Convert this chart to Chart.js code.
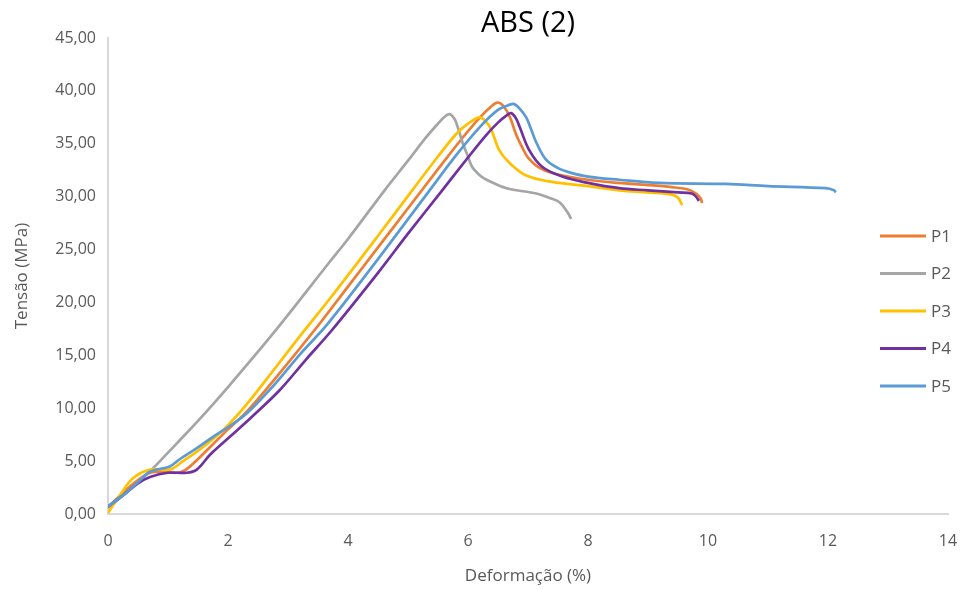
<!DOCTYPE html>
<html>
<head>
<meta charset="utf-8">
<script src="https://cdn.jsdelivr.net/npm/chart.js@4.4.0/dist/chart.umd.min.js"></script>
<style>
  html, body { margin: 0; padding: 0; background: #fff; }
  #wrap { width: 966px; height: 590px; }
</style>
</head>
<body>
<div id="wrap"><canvas id="myChart"></canvas></div>
<script>
// Deformação (%) x Tensão (MPa), five specimens
const p1 = [[0,0.6],[0.25,2.0],[0.5,3.2],[0.7,3.9],[0.9,4.0],[1.15,3.9],[1.3,4.2],[1.5,5.2],[1.75,6.6],[2.0,8.0],[2.3,9.6],[2.8,12.9],[3.5,17.8],[4.0,21.5],[4.5,25.2],[5.0,28.9],[5.5,32.6],[5.9,35.5],[6.2,37.5],[6.4,38.6],[6.5,38.9],[6.6,38.5],[6.7,37.5],[6.8,35.9],[6.9,34.7],[7.0,33.7],[7.2,32.7],[7.5,32.1],[8.0,31.6],[8.5,31.3],[9.0,31.1],[9.4,30.9],[9.65,30.7],[9.8,30.3],[9.88,29.8],[9.9,29.4]];
const p2 = [[0,0.6],[0.3,2.0],[0.5,3.0],[0.73,4.2],[1.0,5.8],[1.2,7.0],[1.5,8.8],[2.0,12.0],[2.8,17.4],[3.69,23.8],[4.0,26.0],[4.61,30.6],[5.0,33.4],[5.3,35.6],[5.5,36.9],[5.62,37.6],[5.7,37.8],[5.78,37.3],[5.85,36.2],[5.91,35.1],[6.0,33.8],[6.07,32.8],[6.2,32.0],[6.31,31.6],[6.64,30.8],[7.14,30.3],[7.35,29.9],[7.52,29.5],[7.65,28.6],[7.72,27.9]];
const p3 = [[0,0.1],[0.2,1.8],[0.42,3.4],[0.7,4.2],[1.03,4.2],[1.25,5.0],[1.53,6.1],[1.91,7.9],[2.3,10.3],[2.8,13.9],[3.28,17.4],[3.69,20.3],[4.5,26.3],[5.07,30.6],[5.5,33.8],[5.8,35.9],[6.0,36.9],[6.19,37.5],[6.3,37.1],[6.39,36.3],[6.52,34.4],[6.69,33.2],[6.97,32.0],[7.4,31.4],[8.0,31.0],[8.52,30.6],[9.0,30.4],[9.4,30.2],[9.5,29.9],[9.57,29.2]];
const p4 = [[0,0.7],[0.3,2.0],[0.5,2.9],[0.7,3.5],[1.0,3.9],[1.31,3.9],[1.48,4.2],[1.7,5.6],[2.03,7.3],[2.4,9.2],[2.86,11.7],[3.3,14.6],[3.72,17.3],[4.5,22.8],[5.0,26.5],[5.57,30.6],[6.0,33.7],[6.3,35.8],[6.5,37.0],[6.65,37.7],[6.72,37.9],[6.8,37.4],[6.86,36.6],[7.02,34.4],[7.24,32.8],[7.57,31.9],[8.0,31.3],[8.52,30.8],[9.0,30.6],[9.5,30.4],[9.73,30.3],[9.8,30.0],[9.85,29.6]];
const p5 = [[0,0.7],[0.3,2.0],[0.5,3.0],[0.7,4.0],[1.03,4.5],[1.2,5.2],[1.5,6.3],[1.75,7.3],[2.0,8.2],[2.31,9.5],[2.8,12.4],[3.2,15.1],[3.65,17.9],[4.5,24.1],[5.36,30.6],[5.8,33.9],[6.2,36.6],[6.5,38.2],[6.7,38.7],[6.77,38.75],[6.85,38.4],[6.97,37.5],[7.05,36.4],[7.14,35.1],[7.3,33.5],[7.5,32.7],[7.69,32.3],[8.0,31.9],[8.52,31.6],[9.18,31.3],[10.3,31.2],[11.0,31.0],[11.96,30.8],[12.1,30.6],[12.13,30.4]];

const names = ['P1', 'P2', 'P3', 'P4', 'P5'];
const series = [p1, p2, p3, p4, p5];
const colors = ['#ED7D31', '#A5A5A5', '#FFC000', '#7030A0', '#5B9BD5'];

const FONT = '"Open Sans", "Liberation Sans", sans-serif';
const TEXT = '#595959';

// legend drawn inside the plot, right side, like the spreadsheet one
const sideLegend = {
    id: 'sideLegend',
    afterDraw(chart) {
        const c = chart.ctx;
        const x0 = chart.chartArea.right - 68;
        c.save();
        c.font = '17px ' + FONT;
        c.textBaseline = 'middle';
        chart.data.datasets.forEach((ds, i) => {
            const y = 236 + i * 37.5;
            c.strokeStyle = ds.borderColor;
            c.lineWidth = 3;
            c.beginPath();
            c.moveTo(x0, y);
            c.lineTo(x0 + 46, y);
            c.stroke();
            c.fillStyle = TEXT;
            c.fillText(ds.label, x0 + 51, y + 1);
        });
        c.restore();
    }
};

const ctx = document.getElementById('myChart');

new Chart(ctx, {
    type: 'scatter',
    data: {
        datasets: series.map((pts, i) => ({
            label: names[i],
            data: pts.map(p => ({x: p[0], y: p[1]})),
            showLine: true,
            borderColor: colors[i],
            backgroundColor: colors[i],
            borderWidth: 2.7,
            pointRadius: 0,
            tension: 0.35,
            order: 5 - i
        }))
    },
    options: {
        responsive: true,
        maintainAspectRatio: false,
        animation: false,
        layout: {
            padding: {left: 0, right: 18, top: 0, bottom: 0}
        },
        plugins: {
            legend: {display: false},
            tooltip: {enabled: false},
            title: {
                display: true,
                text: 'ABS (2)',
                fullSize: false,
                color: '#000',
                font: {family: FONT, size: 29, weight: 'normal', lineHeight: 1},
                padding: {top: 9, bottom: 0}
            }
        },
        scales: {
            x: {
                type: 'linear',
                min: 0,
                max: 14,
                ticks: {
                    stepSize: 2,
                    color: TEXT,
                    font: {family: FONT, size: 16},
                    padding: 18
                },
                grid: {drawOnChartArea: false, drawTicks: false},
                border: {color: '#D9D9D9', width: 2},
                title: {
                    display: true,
                    text: 'Deformação (%)',
                    color: TEXT,
                    font: {family: FONT, size: 17},
                    padding: {top: 4}
                },
                afterFit(scale) {
                    scale.height = 76;
                    scale.paddingLeft = 0;
                    scale.paddingRight = 0;
                }
            },
            y: {
                type: 'linear',
                min: 0,
                max: 45,
                ticks: {
                    stepSize: 5,
                    color: TEXT,
                    font: {family: FONT, size: 16},
                    padding: 12,
                    callback: v => v.toFixed(2).replace('.', ',')
                },
                grid: {drawOnChartArea: false, drawTicks: false},
                border: {color: '#D9D9D9', width: 2},
                title: {
                    display: true,
                    text: 'Tensão (MPa)',
                    color: TEXT,
                    font: {family: FONT, size: 17},
                    padding: {top: 12, bottom: 4}
                },
                afterFit(scale) {
                    scale.width = 108;
                    scale.paddingTop = 0;
                    scale.paddingBottom = 0;
                }
            }
        }
    },
    plugins: [sideLegend]
});
</script>
</body>
</html>
